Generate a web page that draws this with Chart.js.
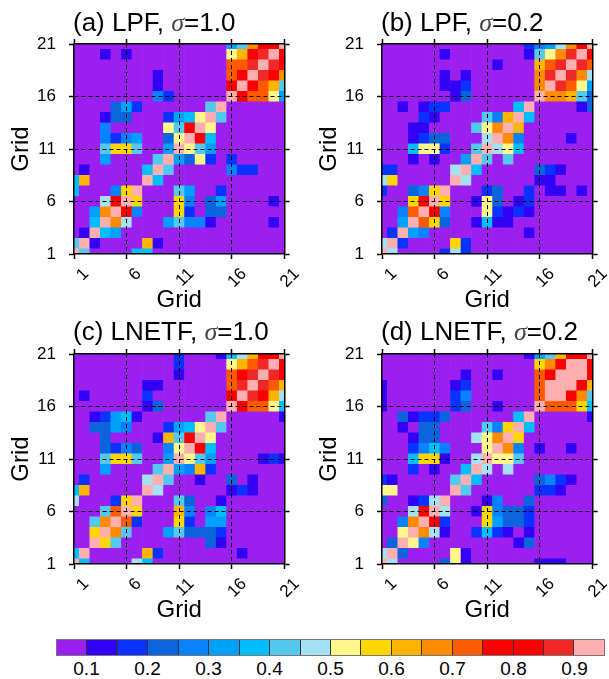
<!DOCTYPE html>
<html><head><meta charset="utf-8">
<script src="https://cdn.jsdelivr.net/npm/chart.js@4.4.1/dist/chart.umd.min.js"></script>
<style>
html,body{margin:0;padding:0;background:#fff;}
body{width:609px;height:679px;position:relative;overflow:hidden;font-family:'Liberation Sans',Arial,sans-serif;color:#000;}
.panel{position:absolute;width:304px;height:320px;}
.ttl{position:absolute;font-size:26px;line-height:26px;white-space:nowrap;color:#000;}
.ttl i{font-family:'Liberation Serif','DejaVu Serif',serif;font-style:italic;color:#444;}
#cbar{position:absolute;left:56px;top:639px;width:549px;height:17px;display:flex;border:1px solid #777;box-sizing:border-box;}
.cb{height:100%;flex:1;border-right:1px solid #333;box-sizing:border-box;}
.cb:last-child{border-right:none;}
.cbl{position:absolute;top:659px;font-size:19px;line-height:19px;transform:translateX(-50%);white-space:nowrap;}
</style></head><body>
<div class="panel" style="left:0;top:0"><canvas id="ca" width="304" height="320"></canvas></div>
<div class="panel" style="left:308px;top:0"><canvas id="cb" width="304" height="320"></canvas></div>
<div class="panel" style="left:0;top:310px"><canvas id="cc" width="304" height="320"></canvas></div>
<div class="panel" style="left:308px;top:310px"><canvas id="cd" width="304" height="320"></canvas></div>
<div class="ttl" style="left:73px;top:9px">(a) LPF, <i>σ</i>=1.0</div>
<div class="ttl" style="left:381px;top:9px">(b) LPF, <i>σ</i>=0.2</div>
<div class="ttl" style="left:73px;top:318px">(c) LNETF, <i>σ</i>=1.0</div>
<div class="ttl" style="left:381px;top:318px">(d) LNETF, <i>σ</i>=0.2</div>
<div id="cbar"></div>
<script>
const gridPts = [1,2,3,4,5,6,7,8,9,10,11,12,13,14,15,16,17,18,19,20,21];
const tickVals = [1,6,11,16,21];
const levels = [0.1,0.15,0.2,0.25,0.3,0.35,0.4,0.45,0.5,0.55,0.6,0.65,0.7,0.75,0.8,0.85,0.9];
const cbLabels = [0.1,0.2,0.3,0.4,0.5,0.6,0.7,0.8,0.9];
const colors = ['#9B20F0','#3200F5','#0A32FF','#0A64DC','#0A82FF','#00A0FF','#00BEFF','#55C8F0','#A5E1F5','#FFF78C','#FFD700','#FFB400','#FF8C00','#FF5A00','#FF0000','#FA0000','#F02828','#FFAFAF'];

// rows listed from Grid 21 (top) down to Grid 1 (bottom); columns Grid 1..21
const corrA = [
[0,0,0,0,0,0,0,0,0,0,0,0,0,0,0,.32,.42,.67,.82,.82,1],
[0,0,0,.12,0,.12,0,0,0,0,0,0,0,0,0,.52,.62,.82,.87,1,.82],
[0,0,0,0,0,0,0,0,0,0,0,0,0,0,0,.72,.72,.87,1,.87,.82],
[0,0,0,0,0,0,0,0,.12,0,0,0,0,0,0,.72,.82,1,.87,.82,.67],
[0,0,0,0,0,0,0,0,.12,0,0,0,0,0,0,.82,1,.82,.72,.62,.42],
[0,0,0,0,0,0,0,0,.27,.17,0,0,0,0,0,1,.82,.72,.72,.52,.32],
[0,0,0,0,.22,.32,.17,0,0,0,0,0,0,.42,1,0,0,0,0,0,0],
[0,0,0,.12,.22,.22,0,0,0,.17,.32,.37,.52,1,.42,0,0,0,0,0,0],
[0,0,0,.27,0,0,0,0,0,.52,.42,.82,1,.52,0,0,0,0,0,0,0],
[0,0,0,.27,.17,.27,.32,0,0,.22,.52,1,.82,.37,0,0,0,0,0,0,0],
[0,0,0,.42,.57,.57,.42,0,0,.32,1,.52,.42,.32,0,0,0,0,0,0,0],
[0,0,0,.32,0,0,0,0,.42,1,.32,.22,.52,.17,0,.17,0,0,0,0,0],
[0,.12,0,0,0,0,0,.37,1,.42,0,0,0,0,0,.27,.17,.17,0,0,0],
[.37,.62,0,0,0,0,0,1,.37,0,0,0,0,0,0,0,0,0,0,0,0],
[.37,0,0,0,.27,.57,1,0,0,0,.42,.32,0,0,.17,0,0,0,0,0,0],
[0,0,0,.47,.82,1,.57,0,0,0,.57,.27,0,.22,.32,0,0,0,0,.12,0],
[0,0,.32,.67,1,.82,.27,0,0,0,.57,.17,0,.22,.22,0,0,0,0,0,0],
[0,0,.37,1,.67,.47,0,0,0,.32,.42,.27,.27,.12,0,0,0,0,0,.12,0],
[0,.12,1,.37,.32,0,0,0,0,0,0,0,0,0,0,0,0,0,0,0,0],
[.42,1,.12,0,0,0,0,.62,.12,0,0,0,0,0,0,0,0,0,0,0,0],
[1,.42,0,0,0,0,.37,.37,0,0,0,0,0,0,0,0,0,0,0,0,0]
];
const corrB = [
[0,0,0,0,0,0,0,0,0,0,0,0,0,0,.17,.27,.32,.47,.67,.82,1],
[0,0,0,0,0,0,.12,0,0,0,0,0,0,0,.12,.42,.52,.67,.87,1,.82],
[0,0,0,0,0,0,0,0,0,0,0,.12,0,0,0,.62,.72,.87,1,.87,.72],
[0,0,0,0,0,0,.12,0,.12,0,0,0,0,0,0,.67,.87,1,.87,.67,.47],
[0,0,0,0,0,0,.12,.12,.17,0,0,0,0,0,0,.67,1,.87,.72,.52,.32],
[0,0,0,0,0,0,0,.12,.22,0,0,0,0,0,0,1,.67,.67,.62,.42,.22],
[0,0,.12,0,.12,.17,.17,0,0,0,0,0,0,.37,1,0,0,0,0,.12,.22],
[0,0,0,0,.17,.12,0,0,0,0,.42,.27,.62,1,.37,0,0,0,0,0,0],
[0,0,0,.12,.12,0,0,0,0,.42,.52,.67,1,.62,0,0,0,0,0,0,0],
[0,0,0,.12,.17,.22,.22,0,0,0,.47,1,.67,.27,0,0,0,0,.12,0,0],
[0,0,0,.37,.52,.52,.17,0,0,.42,1,.47,.52,.37,0,0,0,0,0,0,0],
[0,0,0,.12,0,.12,0,0,.32,1,.42,0,.42,0,0,0,0,0,0,0,0],
[.17,.17,0,0,0,0,0,.47,1,.37,0,0,0,0,0,.22,.17,.12,0,0,0],
[.47,.57,0,0,0,0,0,1,.47,0,0,0,0,0,0,.12,.12,0,0,0,0],
[.17,0,0,.22,.27,.57,1,0,0,0,.17,.22,0,0,.17,0,.12,.12,0,.12,0],
[0,0,0,.57,.82,1,.57,0,0,.12,.52,.22,0,.12,.17,0,0,0,0,0,0],
[0,0,.27,.72,1,.82,.27,0,0,0,.52,.17,.12,.17,.12,0,0,0,0,0,0],
[0,0,.32,1,.72,.57,.22,0,0,.12,.37,.12,.12,0,0,0,0,0,0,0,0],
[0,.17,1,.32,.27,0,0,0,0,0,0,0,0,0,.12,0,0,0,0,0,0],
[.47,1,.17,0,0,0,0,.57,.17,0,0,0,0,0,0,0,0,0,0,0,0],
[1,.47,0,0,0,0,.17,.47,.17,0,0,0,0,0,0,0,0,0,0,0,0]
];
const corrC = [
[0,0,0,0,0,0,0,0,0,0,.17,0,0,0,.12,.37,.47,.62,.82,.82,1],
[0,0,0,0,0,0,0,0,0,0,.17,0,0,0,0,.52,.62,.72,.87,1,.82],
[0,0,0,0,0,0,0,0,0,0,.12,0,0,0,0,.72,.82,.87,1,.87,.82],
[0,0,0,0,0,0,0,.12,.12,0,0,0,0,0,0,.72,.87,1,.87,.72,.62],
[0,.12,0,0,0,0,0,.17,0,0,0,0,0,0,0,.82,1,.87,.82,.62,.47],
[0,0,0,0,0,0,0,.12,.22,0,0,0,0,0,0,1,.82,.72,.72,.52,.37],
[0,0,.12,.17,.32,.37,.12,0,0,0,0,0,0,.42,1,0,0,0,0,0,.12],
[0,0,.22,.22,.32,.27,0,0,0,.17,.32,.37,.52,1,.42,0,0,0,0,0,0],
[0,0,0,.22,0,0,0,0,.12,.62,.42,.82,1,.52,0,0,0,0,0,0,0],
[0,0,0,.22,.17,.27,.22,0,0,.27,.52,1,.82,.37,0,0,0,0,0,0,0],
[0,0,0,.42,.57,.57,.42,0,0,.32,1,.52,.42,.32,0,0,0,0,.12,.17,.12],
[0,0,0,.32,0,0,0,0,.42,1,.32,.27,.62,.17,0,0,0,0,0,0,0],
[0,.17,0,0,0,0,0,.47,1,.42,0,0,.12,0,0,.22,0,.12,0,0,0],
[.37,.62,0,0,0,0,0,1,.47,0,0,0,0,0,0,.12,.17,.12,0,0,0],
[.47,0,0,0,.17,.57,1,0,0,0,.42,.22,0,0,.12,0,0,0,0,0,0],
[0,0,0,.42,.72,1,.57,0,0,0,.62,.27,0,.27,.37,0,0,0,0,0,0],
[0,0,.42,.67,1,.72,.17,0,0,0,.57,.17,0,.32,.32,0,0,0,0,0,0],
[0,0,.57,1,.67,.42,0,0,0,.32,.42,.22,.22,.22,.17,0,0,0,0,0,0],
[0,0,1,.57,.42,0,0,0,0,0,0,0,0,.22,.12,0,0,0,0,0,0],
[.37,1,0,0,0,0,0,.62,.17,0,0,0,0,0,0,0,.12,0,0,0,0],
[1,.37,0,0,0,0,.47,.37,0,0,0,0,0,0,0,0,0,0,0,0,0]
];
const corrD = [
[0,0,0,0,0,0,0,0,0,0,0,0,0,0,.12,.32,.42,.62,.82,.82,1],
[0,0,0,0,0,0,0,0,0,0,0,0,0,0,0,.57,.67,.82,.95,1,.82],
[0,0,0,0,0,0,0,0,.12,0,0,.12,0,0,0,.72,.82,.95,1,.95,.82],
[.12,0,0,0,0,0,0,.12,.17,0,0,0,0,0,0,.72,.95,1,.95,.82,.62],
[.12,0,0,0,0,0,0,.17,.27,0,0,0,0,0,0,.72,1,.95,.82,.67,.42],
[.12,0,0,0,0,0,0,.17,.22,0,0,.12,0,0,0,1,.72,.72,.72,.57,.37],
[0,0,.22,.12,.17,.17,.22,0,0,0,0,0,0,.37,1,0,0,0,0,0,.12],
[0,0,.12,0,.22,.22,0,0,0,0,.42,.27,.57,1,.37,0,0,0,0,0,0],
[0,0,0,.12,.22,.22,0,0,0,.47,.52,.67,1,.57,0,0,0,0,0,0,0],
[0,0,0,.17,.27,.37,.27,0,0,0,.52,1,.67,.27,0,.12,0,0,.12,0,0],
[0,0,0,.37,.57,.57,.12,0,0,.47,1,.52,.52,.42,0,0,0,0,0,0,0],
[0,0,0,.17,0,.12,0,0,.37,1,.47,0,.47,0,0,0,0,0,0,0,0],
[.17,.12,0,0,0,0,0,.42,1,.37,0,0,0,0,0,.22,.27,.17,.12,0,0],
[.52,.52,0,0,0,0,0,1,.42,0,0,0,0,0,0,.17,.17,.12,0,0,0],
[.22,0,0,.12,.17,.47,1,0,0,0,.12,.27,0,0,.22,0,0,0,0,0,0],
[0,0,0,.47,.82,1,.47,0,0,.12,.57,.27,.22,.22,.17,0,0,0,0,0,0],
[0,0,.27,.67,1,.82,.17,0,0,0,.57,.32,.22,.22,.17,0,0,0,0,0,0],
[0,0,.52,1,.67,.47,.12,0,0,.17,.37,.17,.12,0,.12,0,0,0,0,0,0],
[0,.22,1,.52,.27,0,0,0,0,0,0,0,0,.12,.22,0,0,0,0,0,0],
[.47,1,.22,0,0,0,0,.52,.12,0,0,0,0,0,0,0,0,0,0,0,0],
[1,.47,0,0,0,0,.22,.52,.12,0,0,0,0,0,0,.12,.12,.12,0,0,0]
];

Chart.defaults.font.family = "'Liberation Sans', Arial, sans-serif";
Chart.defaults.color = '#000';

function colorFor(v) {
  let k = 0;
  while (k < levels.length && v >= levels[k]) k++;
  return colors[k];
}

function makeChart(id, matrix) {
  const n = gridPts.length;
  const pts = [];
  matrix.forEach((row, r) => row.forEach((v, c) => pts.push({x: gridPts[c], y: gridPts[n - 1 - r], v: v})));
  const cellRadius = (ctx) => {
    const sx = ctx.chart.scales.x, sy = ctx.chart.scales.y;
    const side = Math.max(Math.abs(sx.getPixelForValue(gridPts[1]) - sx.getPixelForValue(gridPts[0])),
                          Math.abs(sy.getPixelForValue(gridPts[1]) - sy.getPixelForValue(gridPts[0]))) + 0.6;
    return side / Math.SQRT2;
  };
  const setTicks = (s) => { s.ticks = tickVals.map(v => ({value: v})); };
  const isEdge = (c) => c.tick && (c.tick.value === gridPts[0] || c.tick.value === gridPts[n - 1]);
  const mainGrid = {z: 1, color: c => isEdge(c) ? 'rgba(0,0,0,0)' : '#000', lineWidth: 1,
                    tickLength: 5, tickColor: '#000', tickWidth: 1.5};
  const mainBorder = {display: true, color: '#000', width: 1.5, dash: [4, 3], z: 2};
  const sideGrid = {drawOnChartArea: false, color: '#000', tickLength: 5, tickColor: '#000', tickWidth: 1.5};
  const sideBorder = {display: true, color: '#000', width: 1.5, z: 2};
  const lim = {type: 'linear', min: gridPts[0], max: gridPts[n - 1], afterBuildTicks: setTicks};
  return new Chart(document.getElementById(id), {
    type: 'scatter',
    data: {datasets: [{
      data: pts,
      pointStyle: 'rect',
      pointBorderWidth: 0,
      pointHoverBorderWidth: 0,
      pointRadius: cellRadius,
      pointHoverRadius: cellRadius,
      pointBackgroundColor: c => colorFor(c.raw.v),
      pointHoverBackgroundColor: c => colorFor(c.raw.v),
      clip: 0
    }]},
    options: {
      responsive: false, animation: false, events: [],
      layout: {padding: 0},
      plugins: {legend: {display: false}, tooltip: {enabled: false}},
      scales: {
        x: Object.assign({}, lim, {position: 'bottom', afterFit: s => { s.height = 66; },
          ticks: {autoSkip: false, maxRotation: 45, minRotation: 45, labelOffset: 12, padding: 5,
                  font: {size: 17}, color: '#000', callback: v => String(v)},
          grid: mainGrid, border: mainBorder,
          title: {display: true, text: 'Grid', font: {size: 24}, color: '#000', padding: {top: 0, bottom: 5}}}),
        y: Object.assign({}, lim, {position: 'left', afterFit: s => { s.width = 74; },
          ticks: {autoSkip: false, padding: 13, font: {size: 17}, color: '#000', callback: v => String(v)},
          grid: mainGrid, border: mainBorder,
          title: {display: true, text: 'Grid', font: {size: 24}, color: '#000', padding: {top: 7, bottom: 0}}}),
        x2: Object.assign({}, lim, {axis: 'x', position: 'top', afterFit: s => { s.height = 44; },
          ticks: {display: false}, grid: sideGrid, border: sideBorder}),
        y2: Object.assign({}, lim, {axis: 'y', position: 'right', afterFit: s => { s.width = 17; },
          ticks: {display: false}, grid: sideGrid, border: sideBorder})
      }
    }
  });
}

makeChart('ca', corrA);
makeChart('cb', corrB);
makeChart('cc', corrC);
makeChart('cd', corrD);

// colour bar
const cbar = document.getElementById('cbar');
colors.forEach(col => {
  const d = document.createElement('div');
  d.className = 'cb';
  d.style.background = col;
  cbar.appendChild(d);
});
const cbLeft = 56, cbWidth = 549;
cbLabels.forEach(lv => {
  const i = levels.indexOf(lv) + 1;
  const t = document.createElement('div');
  t.className = 'cbl';
  t.style.left = (cbLeft + cbWidth * i / colors.length) + 'px';
  t.textContent = lv.toFixed(1);
  document.body.appendChild(t);
});
</script>
</body></html>
